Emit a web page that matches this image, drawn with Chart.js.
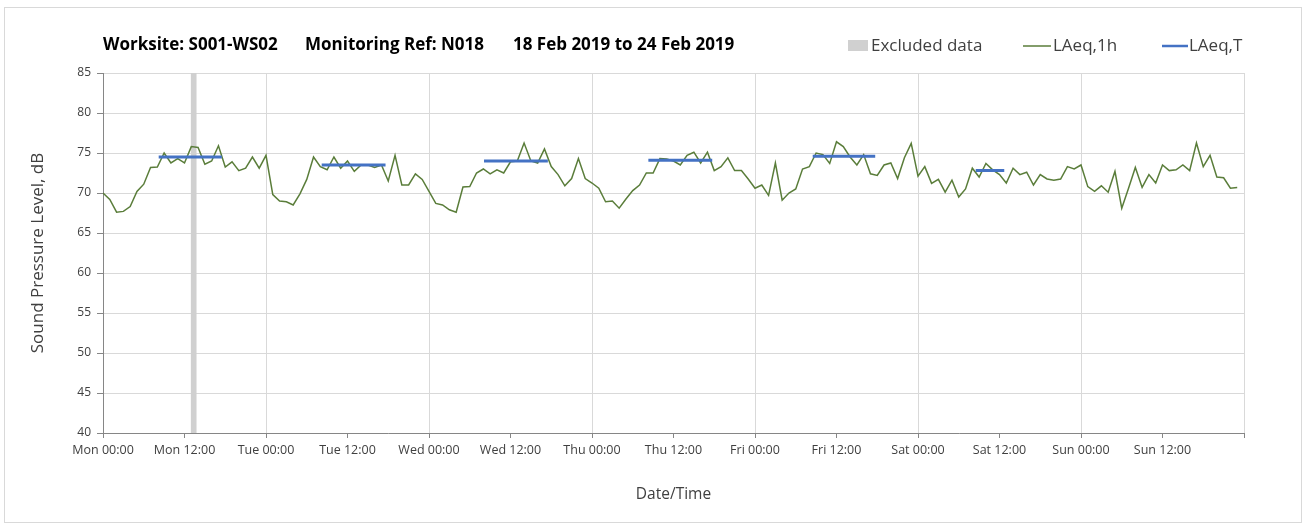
<!DOCTYPE html>
<html>
<head>
<meta charset="utf-8">
<script src="https://cdn.jsdelivr.net/npm/chart.js@4/dist/chart.umd.min.js"></script>
<style>
  html, body { margin: 0; padding: 0; background: #fff; }
  #noise { display: block; }
</style>
</head>
<body>
<canvas id="noise" width="1307" height="530"></canvas>
<script>
/* LAeq,1h と LAeq,T の週間グラフ */

const titleParts = ["Worksite: S001-WS02", "Monitoring Ref: N018", "18 Feb 2019 to 24 Feb 2019"];
const xTickLabels = [
  "Mon 00:00", "Mon 12:00", "Tue 00:00", "Tue 12:00", "Wed 00:00", "Wed 12:00", "Thu 00:00",
  "Thu 12:00", "Fri 00:00", "Fri 12:00", "Sat 00:00", "Sat 12:00", "Sun 00:00", "Sun 12:00",
];

// 1時間値 (Mon 00:00 から 168 時間)
const laeq1h = [
  // Mon
  70.0, 69.2, 67.6, 67.7, 68.3, 70.2, 71.1, 73.2, 73.25, 75.0, 73.75, 74.3,
  73.75, 75.8, 75.7, 73.6, 74.0, 75.9, 73.25, 73.9, 72.8, 73.1, 74.5, 73.1,
  // Tue
  74.7, 69.8, 69.0, 68.9, 68.5, 69.9, 71.7, 74.5, 73.3, 72.9, 74.5, 73.1,
  74.0, 72.7, 73.5, 73.5, 73.2, 73.5, 71.5, 74.7, 71.0, 71.0, 72.4, 71.7,
  // Wed
  70.2, 68.7, 68.5, 67.9, 67.6, 70.75, 70.8, 72.5, 73.0, 72.4, 72.9, 72.5,
  73.9, 74.0, 76.25, 74.0, 73.75, 75.5, 73.3, 72.3, 70.9, 71.8, 74.3, 71.8,
  // Thu
  71.25, 70.6, 68.9, 69.0, 68.1, 69.25, 70.3, 71.0, 72.5, 72.5, 74.3, 74.25,
  74.0, 73.5, 74.7, 75.1, 73.75, 75.1, 72.8, 73.3, 74.4, 72.8, 72.8, 71.75,
  // Fri
  70.6, 71.0, 69.7, 73.75, 69.1, 70.0, 70.5, 73.0, 73.3, 75.0, 74.8, 73.7,
  76.4, 75.8, 74.5, 73.5, 74.8, 72.4, 72.2, 73.5, 73.75, 71.8, 74.4, 76.2,
  // Sat
  72.1, 73.3, 71.2, 71.7, 70.1, 71.6, 69.5, 70.5, 73.1, 72.0, 73.7, 72.9,
  72.3, 71.25, 73.1, 72.3, 72.6, 71.0, 72.3, 71.75, 71.6, 71.75, 73.3, 73.0,
  // Sun
  73.5, 70.8, 70.2, 70.9, 70.1, 72.7, 68.1, 70.6, 73.2, 70.7, 72.3, 71.25,
  73.5, 72.8, 72.9, 73.5, 72.8, 76.25, 73.3, 74.7, 72.0, 71.9, 70.6, 70.7,
];

// LAeq,T の測定期間 (時間) と値
const laeqTStart = [8.2, 32.2, 56.1, 80.3, 104.5, 128.5];
const laeqTEnd = [17.5, 41.6, 65.5, 89.7, 113.7, 132.7];
const laeqTValues = [74.5, 73.5, 74.0, 74.1, 74.6, 72.8];

// 除外データの時間帯
const excludedFrom = 12.9;
const excludedTo = 13.8;

const Y_MIN = 40;
const Y_MAX = 85;

const FONT = "'Open Sans', 'Noto Sans', sans-serif";
const GREEN = "#5a7d3a";
const BLUE = "#4472c4";
const GREY_BAND = "#d0d0d0";
const TEXT = "#404040";

const linePoints = laeq1h.map((v, h) => ({ x: h, y: v }));
const tPoints = [];
laeqTValues.forEach((v, i) => {
  tPoints.push({ x: laeqTStart[i], y: v }, { x: laeqTEnd[i], y: v }, { x: laeqTEnd[i], y: null });
});

/* タイトル・凡例・外枠 */
const decorPlugin = {
  id: "decor",
  afterDraw(chart) {
    const ctx = chart.ctx;
    ctx.save();
    ctx.strokeStyle = "#d9d9d9";
    ctx.lineWidth = 1;
    ctx.strokeRect(4.5, 7.5, 1297, 515);

    ctx.fillStyle = "#000";
    ctx.textBaseline = "middle";
    ctx.font = `bold 17px ${FONT}`;
    const titleX = [103, 305, 513];
    titleParts.forEach((t, i) => ctx.fillText(t, titleX[i], 45));

    ctx.font = `17px ${FONT}`;
    ctx.fillStyle = GREY_BAND;
    ctx.fillRect(848, 40, 20, 11);
    ctx.fillStyle = TEXT;
    ctx.fillText("Excluded data", 871, 46);

    ctx.strokeStyle = GREEN;
    ctx.lineWidth = 1.5;
    ctx.beginPath();
    ctx.moveTo(1023, 46);
    ctx.lineTo(1051, 46);
    ctx.stroke();
    ctx.fillText("LAeq,1h", 1053, 46);

    ctx.strokeStyle = BLUE;
    ctx.lineWidth = 2.5;
    ctx.beginPath();
    ctx.moveTo(1162, 46);
    ctx.lineTo(1188, 46);
    ctx.stroke();
    ctx.fillText("LAeq,T", 1189, 46);
    ctx.restore();
  },
};

new Chart(document.getElementById("noise"), {
  type: "line",
  data: {
    datasets: [
      {
        label: "LAeq,T",
        data: tPoints,
        borderColor: BLUE,
        borderWidth: 3,
        pointRadius: 0,
        spanGaps: false,
        fill: false,
      },
      {
        label: "LAeq,1h",
        data: linePoints,
        borderColor: GREEN,
        borderWidth: 1.5,
        pointRadius: 0,
        tension: 0,
        fill: false,
      },
      {
        label: "Excluded data",
        data: [{ x: excludedFrom, y: Y_MAX }, { x: excludedTo, y: Y_MAX }],
        borderWidth: 0,
        borderColor: "rgba(0,0,0,0)",
        backgroundColor: GREY_BAND,
        pointRadius: 0,
        fill: "start",
      },
    ],
  },
  options: {
    responsive: false,
    animation: false,
    layout: { padding: { top: 73, right: 63, left: 0, bottom: 0 } },
    scales: {
      x: {
        type: "linear",
        min: 0,
        max: 168,
        afterFit: (s) => { s.height = 97; },
        ticks: {
          stepSize: 12,
          autoSkip: false,
          maxRotation: 0,
          padding: 5,
          color: TEXT,
          font: { family: FONT, size: 12.5 },
          callback: (v) => xTickLabels[v / 12] || "",
        },
        grid: {
          color: (c) => (c.tick && c.tick.value % 24 === 0 ? "#d9d9d9" : "rgba(0,0,0,0)"),
          tickColor: "#868686",
          tickLength: 5,
        },
        border: { color: "#868686" },
        title: {
          display: true,
          text: "Date/Time",
          color: TEXT,
          font: { family: FONT, size: 15.5 },
          padding: { top: 0, bottom: 26 },
        },
      },
      y: {
        min: Y_MIN,
        max: Y_MAX,
        afterFit: (s) => { s.width = 103; },
        ticks: {
          stepSize: 5,
          padding: 6,
          color: TEXT,
          font: { family: FONT, size: 12 },
        },
        grid: { color: "#d9d9d9", tickColor: "#868686", tickLength: 6 },
        border: { color: "#868686" },
        title: {
          display: true,
          text: "Sound Pressure Level, dB",
          color: TEXT,
          font: { family: FONT, size: 17 },
          padding: { top: 28, bottom: 0 },
        },
      },
    },
    plugins: {
      legend: { display: false },
      tooltip: { enabled: false },
    },
  },
  plugins: [decorPlugin],
});
</script>
</body>
</html>
